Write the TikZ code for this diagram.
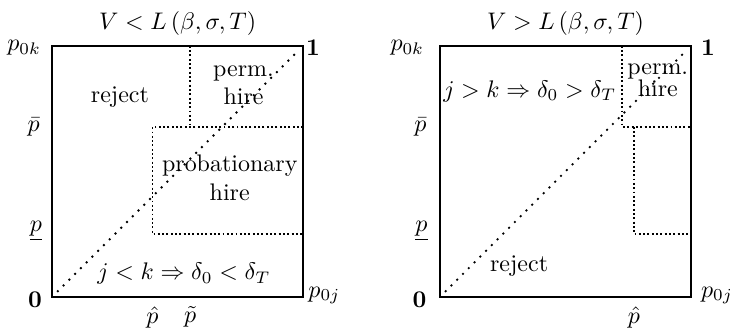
\documentclass[tikz,border=0pt]{standalone}
\usetikzlibrary{positioning}

\begin{document}
\begin{tikzpicture}[scale=0.92]

  % Styles
  \tikzset{
    frame/.style={thick},
    region/.style={densely dotted, line width=0.8pt},
    diagonal/.style={line width=0.8pt, dash pattern=on 0.8pt off 2.6pt},
    axis label/.style={inner sep=0pt},
    area label/.style={align=center, inner sep=1pt}
  }

  \useasboundingbox (-0.83,-0.51) rectangle (10.80,4.73);

  % --- LEFT PANEL: V < L ---
  \begin{scope}[shift={(0,0)}]
    % Box
    \coordinate (O1) at (0,0);
    \coordinate (E1) at (4,4);
    \draw[frame] (O1) rectangle (E1);
    % Regions
    \draw[region] (2.2,4) -- (2.2,2.71);
    \draw[region] (4,2.71) -- (1.6,2.71) -- (1.6,1) -- (4,1);
    % Diagonal
    \draw[diagonal] (0.08,0.08) -- (3.92,3.92);
    % Axis labels
    \node[axis label, above=4pt] (title1) at (2,4) {$V < L\,(\beta,\sigma,T)$};
    \node[axis label, left=4.5pt] (pk1) at (0,3.97) {$p_{0k}$};
    \node[axis label, right=1pt] (one1) at (4,3.97) {$\mathbf{1}$};
    \node[axis label, left=5pt] (pbar1) at (0,2.71) {$\bar{p}$};
    \node[axis label, left=4pt] (pund1) at (0,1.05) {$\underline{p}$};
    \node[axis label, left=4pt] (zero1) at (0,-0.04) {$\mathbf{0}$};
    \node[axis label, right=2pt] (pj1) at (4,0.02) {$p_{0j}$};
    \node[axis label, below=4pt] (phat1) at (1.6,0) {$\hat{p}$};
    \node[axis label, below=4pt] (ptil1) at (2.2,0) {$\tilde{p}$};
    % Region labels
    \node[area label] (rej1) at (1.08,3.19) {reject};
    \node[area label] (perm1) at (3.05,3.37) {perm.\\ hire};
    \node[area label] (prob1) at (2.83,1.9) {probationary\\ hire};
    \node[area label] (rule1) at (2.1,0.37) {$j < k \Rightarrow \delta_0 < \delta_T$};
  \end{scope}

  % --- RIGHT PANEL: V > L ---
  \begin{scope}[shift={(6.18,0)}]
    % Box
    \coordinate (O2) at (0,0);
    \coordinate (E2) at (4,4);
    \draw[frame] (O2) rectangle (E2);
    % Regions
    \draw[region] (2.9,4) -- (2.9,2.71) -- (4,2.71);
    \draw[region] (3.09,2.71) -- (3.09,1) -- (4,1);
    % Diagonal
    \draw[diagonal] (0.08,0.08) -- (3.92,3.92);
    % Axis labels
    \node[axis label, above=4pt] (title2) at (2,4) {$V > L\,(\beta,\sigma,T)$};
    \node[axis label, left=6.5pt] (pk2) at (0,3.97) {$p_{0k}$};
    \node[axis label, right=4pt] (one2) at (4,3.97) {$\mathbf{1}$};
    \node[axis label, left=5.5pt] (pbar2) at (0,2.71) {$\bar{p}$};
    \node[axis label, left=5pt] (pund2) at (0,1.05) {$\underline{p}$};
    \node[axis label, left=5.5pt] (zero2) at (0,-0.04) {$\mathbf{0}$};
    \node[axis label, right=4pt] (pj2) at (4,0.02) {$p_{0j}$};
    \node[axis label, below=4pt] (phat2) at (3.09,0) {$\hat{p}$};
    % Region labels
    \node[area label] (perm2) at (3.47,3.45) {perm.\\[-3pt] hire};
    \node[area label] (rule2) at (1.43,3.28) {$j > k \Rightarrow \delta_0 > \delta_T$};
    \node[area label] (rej2) at (1.26,0.49) {reject};
  \end{scope}

\end{tikzpicture}
\end{document}
